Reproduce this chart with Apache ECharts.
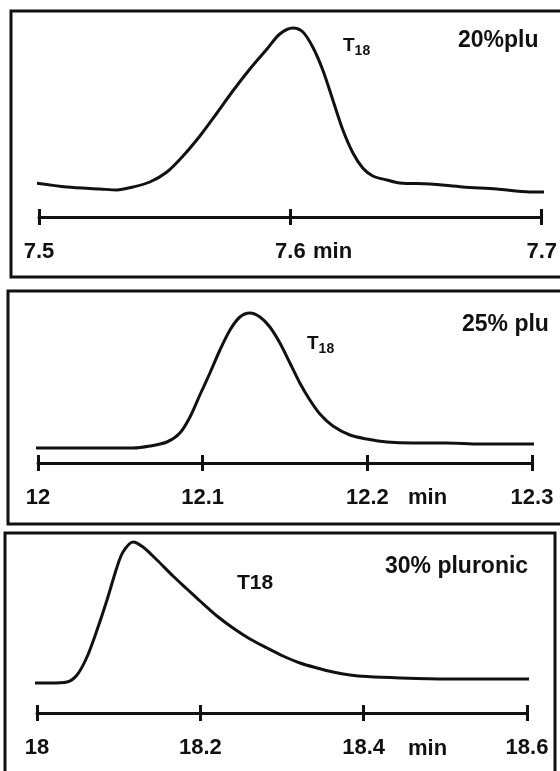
<!DOCTYPE html>
<html>
<head>
<meta charset="utf-8">
<script src="https://cdn.jsdelivr.net/npm/echarts@6.0.0/dist/echarts.min.js"></script>
<style>
  html, body { margin: 0; padding: 0; background: #fff; }
  #chart { width: 560px; height: 771px; }
</style>
</head>
<body>
<div id="chart"></div>
<script>
// panel 1 - 20% pluronic
const time20 = [7.4984, 7.5111, 7.5243, 7.5310, 7.5374, 7.5441, 7.5509, 7.5573, 7.5640, 7.5708,
  7.5771, 7.5839, 7.5907, 7.5958, 7.6010, 7.6050, 7.6089, 7.6129, 7.6169, 7.6209,
  7.6249, 7.6288, 7.6328, 7.6384, 7.6435, 7.6555, 7.6686, 7.6821, 7.6952, 7.7020];
const signal20 = [17, 15, 14, 13.5, 15, 17.5, 22.5, 30.5, 40.5, 52,
  63, 74, 84, 91.5, 94.5, 92.5, 85, 73.5, 58.5, 43.5,
  32, 24.5, 20.5, 18.5, 17, 16.5, 15, 14, 12.5, 12.5];
const ticks20 = ['7.5', '7.6', '7.7'];

// panel 2 - 25% pluronic
const time25 = [11.9982, 12.0176, 12.0376, 12.0577, 12.0680, 12.0783, 12.0862, 12.0923, 12.0983, 12.1044,
  12.1105, 12.1166, 12.1226, 12.1287, 12.1348, 12.1408, 12.1469, 12.1530, 12.1590, 12.1651,
  12.1712, 12.1791, 12.1894, 12.1997, 12.2119, 12.2276, 12.2482, 12.2683, 12.3029];
const signal25 = [7.5, 7.5, 7.5, 7.5, 8.5, 10.5, 15, 23, 34, 45,
  56.5, 66.5, 73, 75, 73, 68, 60, 50, 40, 31.5,
  24.5, 18.5, 14, 12, 10.5, 10, 10, 9.5, 9.5];
const ticks25 = ['12', '12.1', '12.2', '12.3'];

// panel 3 - 30% pluronic
const time30 = [17.9951, 18.0159, 18.0367, 18.0490, 18.0612, 18.0735, 18.0857, 18.0980, 18.1053, 18.1176,
  18.1298, 18.1469, 18.1665, 18.1837, 18.1996, 18.2204, 18.2400, 18.2608, 18.2816, 18.3012,
  18.3220, 18.3429, 18.3624, 18.3833, 18.4041, 18.4445, 18.5020, 18.5424, 18.6061];
const signal30 = [15, 15, 15.5, 19, 28, 41.5, 56.5, 73, 80.5, 85.5,
  83, 76.5, 68.5, 62, 56, 48.5, 42.5, 37, 32.5, 28.5,
  25, 22.5, 20.5, 19, 18.2, 17.5, 17, 17, 17];
const ticks30 = ['18', '18.2', '18.4', '18.6'];

const INK = '#111';
const FONT = "'Liberation Sans', Arial, sans-serif";

const chart = echarts.init(document.getElementById('chart'), null, { renderer: 'canvas' });

const grids = [
  { left: 39, top: 17, width: 503, height: 200 },
  { left: 38, top: 263, width: 494, height: 200 },
  { left: 37, top: 513, width: 490, height: 200 }
];
const ranges = [
  { min: 7.5, max: 7.7, interval: 0.1, labels: ticks20 },
  { min: 12, max: 12.3, interval: 0.1, labels: ticks25 },
  { min: 18, max: 18.6, interval: 0.2, labels: ticks30 }
];

const xAxes = [];
ranges.forEach((r, i) => {
  // main axis: line, labels, ticks below
  xAxes.push({
    type: 'value', gridIndex: i, position: 'bottom',
    min: r.min, max: r.max, interval: r.interval,
    splitLine: { show: false },
    axisLine: { show: true, lineStyle: { color: INK, width: 3 } },
    axisTick: { show: true, length: 8, lineStyle: { color: INK, width: 3 } },
    axisLabel: {
      color: INK, fontSize: 22, fontWeight: 'bold', fontFamily: FONT, margin: 24,
      formatter: (v, idx) => r.labels[idx]
    }
  });
  // twin axis: only the upper half of each tick
  xAxes.push({
    type: 'value', gridIndex: i, position: 'bottom',
    min: r.min, max: r.max, interval: r.interval,
    splitLine: { show: false },
    axisLine: { show: false },
    axisTick: { show: true, inside: true, length: 8, lineStyle: { color: INK, width: 3 } },
    axisLabel: { show: false }
  });
});

const yAxes = grids.map((g, i) => ({ type: 'value', gridIndex: i, min: 0, max: 100, show: false }));

const pairs = (xs, ys) => xs.map((x, k) => [x, ys[k]]);
const series = [[time20, signal20], [time25, signal25], [time30, signal30]].map((d, i) => ({
  type: 'line', xAxisIndex: i * 2, yAxisIndex: i,
  data: pairs(d[0], d[1]),
  smooth: 0.3, showSymbol: false, clip: false, silent: true,
  lineStyle: { color: INK, width: 3 }
}));

const txt = (text, x, y, size) => ({
  type: 'text', x: x, y: y,
  style: { text: text, fill: INK, font: 'bold ' + size + 'px ' + FONT, verticalAlign: 'middle' }
});
const sub = (x, y) => ({
  type: 'text', x: x, y: y,
  style: {
    text: '{t|T}{s|18}', fill: INK, verticalAlign: 'middle',
    rich: {
      t: { fontSize: 19, fontWeight: 'bold', fontFamily: FONT, lineHeight: 22, verticalAlign: 'top', fill: INK },
      s: { fontSize: 14, fontWeight: 'bold', fontFamily: FONT, lineHeight: 22, verticalAlign: 'bottom', fill: INK }
    }
  }
});
const frame = (x, y, w, h) => ({
  type: 'rect', shape: { x: x, y: y, width: w, height: h },
  style: { fill: 'none', stroke: INK, lineWidth: 3 }, z: 10
});

chart.setOption({
  animation: false,
  backgroundColor: '#fff',
  grid: grids,
  xAxis: xAxes,
  yAxis: yAxes,
  series: series,
  graphic: [
    frame(11, 11, 600, 266),
    frame(8, 291, 600, 233),
    frame(5, 533, 550, 300),
    sub(343, 47),
    txt('20%plu', 458, 41, 23),
    txt('min', 313, 252, 22),
    sub(307, 345),
    txt('25% plu', 462, 325, 23),
    txt('min', 408, 498, 22),
    txt('T18', 237, 583, 21),
    txt('30% pluronic', 385, 567, 23),
    txt('min', 408, 749, 22)
  ]
});
</script>
</body>
</html>
